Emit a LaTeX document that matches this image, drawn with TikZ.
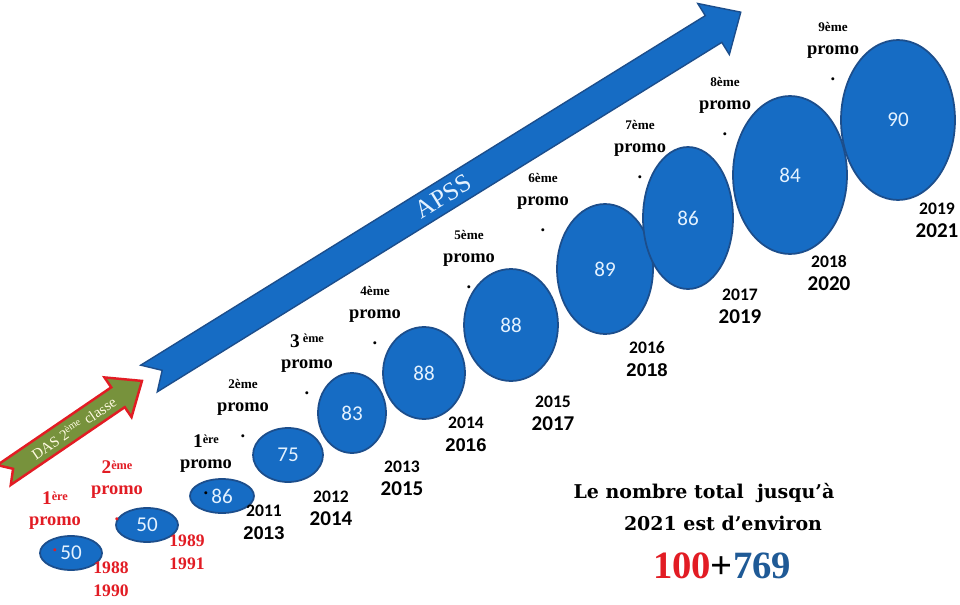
\documentclass[tikz,border=0pt]{standalone}
\usepackage{fontspec}
\setmainfont{Liberation Serif}
\newfontfamily\oldnum{Carlito}
\newfontfamily\arialnum{Liberation Sans}
\newfontfamily\totalfont{DejaVu Serif}
\usetikzlibrary{shapes.geometric,positioning}
\definecolor{cohortblue}{RGB}{22,108,196}
\definecolor{cohortedge}{RGB}{28,78,140}
\definecolor{numtext}{RGB}{228,242,255}
\definecolor{promored}{RGB}{226,28,36}
\definecolor{dasgreen}{RGB}{119,146,60}
\definecolor{dastext}{RGB}{255,250,225}
\definecolor{totalblue}{RGB}{31,90,150}
\newcommand{\ordbig}[2]{{\fontsize{11}{12}\selectfont #1}\raisebox{0.75ex}{\fontsize{7}{8}\selectfont #2}}

\begin{document}
\begin{tikzpicture}[x=0.02cm, y=-0.02cm,
    cohort/.style={ellipse, draw=cohortedge, line width=1pt, fill=cohortblue, inner sep=0pt, text=numtext, font=\oldnum\fontsize{12}{12}\selectfont},
    rank/.style={inner sep=0pt, font=\bfseries\fontsize{7.5}{8}\selectfont},
    promo/.style={inner sep=0pt, font=\bfseries\fontsize{10.5}{11}\selectfont},
    years/.style={inner sep=0pt, align=center, font=\oldnum\bfseries\fontsize{10}{13}\selectfont},
    oldyears/.style={inner sep=0pt, align=center, text=promored, font=\bfseries\fontsize{10}{13}\selectfont},
    total/.style={inner sep=0pt, font=\totalfont\bfseries\fontsize{10.8}{12}\selectfont}
]
\fill[white] (0,0) rectangle (960,605);
\useasboundingbox (0,0) rectangle (960,605);

% APSS arrow
\begin{scope}[shift={(149,378.5)}, rotate=31.76]
  \filldraw[fill=cohortblue, draw=cohortedge, line width=0.8pt] (0,-15.7) -- (664,-15.7) -- (664,-30) -- (696,0) -- (664,30) -- (664,15.7) -- (0,15.7) -- (15.5,0) -- cycle;
  \node[transform shape, text=numtext, font=\fontsize{14.5}{15}\selectfont] (apss) at (346,0) {APSS};
\end{scope}

% DAS arrow
\begin{scope}[shift={(4,475)}, rotate=34.3]
  \filldraw[fill=dasgreen, draw=promored, line width=1.4pt] (0,-12) -- (138,-12) -- (138,-24) -- (167,0) -- (138,24) -- (138,12) -- (0,12) -- (11,0) -- cycle;
  \node[transform shape, text=dastext, font=\fontsize{8.5}{9}\selectfont] (das) at (84,0) {DAS 2\textsuperscript{ème} classe};
\end{scope}

% cohorts
\node[cohort, minimum width=1.24cm, minimum height=0.68cm] (e1) at (71,553) {50};
\node[cohort, minimum width=1.24cm, minimum height=0.68cm] (e2) at (147,525) {50};
\node[cohort, minimum width=1.28cm, minimum height=0.68cm] (e3) at (222,496) {86};
\node[cohort, minimum width=1.40cm, minimum height=1.08cm] (e4) at (288,455) {75};
\node[cohort, minimum width=1.36cm, minimum height=1.60cm] (e5) at (352,413) {83};
\node[cohort, minimum width=1.64cm, minimum height=1.84cm] (e6) at (424,373) {88};
\node[cohort, minimum width=1.88cm, minimum height=2.24cm] (e7) at (511,325) {88};
\node[cohort, minimum width=1.92cm, minimum height=2.60cm] (e8) at (605,269) {89};
\node[cohort, minimum width=1.80cm, minimum height=2.84cm] (e9) at (688,218) {86};
\node[cohort, minimum width=2.28cm, minimum height=3.16cm] (e10) at (790,175) {84};
\node[cohort, minimum width=2.28cm, minimum height=3.20cm] (e11) at (898,120) {90};

% promo labels
\foreach \i/\x/\y/\r/\col in {a/55/523/{\ordbig{1}{ère}}/promored, b/117/492/{\ordbig{2}{ème}}/promored,
    1/206/466/{\ordbig{1}{ère}}/black, 2/243/409/{2ème}/black, 3/307/366/{\ordbig{3}{\ ème}}/black,
    4/375/316/{4ème}/black, 5/469/260/{5ème}/black, 6/543/203/{6ème}/black,
    7/640/150/{7ème}/black, 8/725/107/{8ème}/black, 9/833/52/{9ème}/black}
{
  \node[promo, text=\col] (p\i) at (\x,\y) {promo};
  \node[rank, text=\col] (r\i) at (\x,\y-25) {\r};
  \node[promo, text=\col] (d\i) at (\x,\y+27) {.};
}

% years
\node[oldyears] (ya) at (111,579) {1988\\1990};
\node[oldyears] (yb) at (187,552) {1989\\1991};
\node[years] (y1) at (264,522) {2011\\{\arialnum\fontsize{10.5}{13}\selectfont 2013}};
\node[years] (y2) at (331,508) {2012\\{\fontsize{12}{13}\selectfont 2014}};
\node[years] (y3) at (402,478) {2013\\{\fontsize{12}{13}\selectfont 2015}};
\node[years] (y4) at (466,434) {2014\\{\arialnum\fontsize{10.5}{13}\selectfont 2016}};
\node[years] (y5) at (553,413) {2015\\{\fontsize{12}{13}\selectfont 2017}};
\node[years] (y6) at (647,359) {2016\\{\arialnum\fontsize{10.5}{13}\selectfont 2018}};
\node[years] (y7) at (740,306) {2017\\{\fontsize{12}{13}\selectfont 2019}};
\node[years] (y8) at (829,273) {2018\\{\fontsize{12}{13}\selectfont 2020}};
\node[years] (y9) at (937,220) {2019\\{\fontsize{12}{13}\selectfont 2021}};

% total
\node[total] (sum1) at (704,493) {Le nombre total\ \ jusqu’à};
\node[total] (sum2) at (723,523) {2021 est d’environ};
\node[inner sep=0pt, font=\bfseries\fontsize{22}{22}\selectfont] (sum3) at (722,566) {\textcolor{promored}{100}+\textcolor{totalblue}{769}};
\end{tikzpicture}
\end{document}
